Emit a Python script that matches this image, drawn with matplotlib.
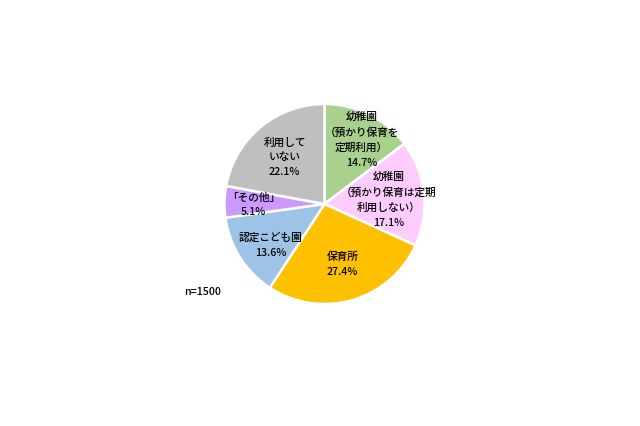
import matplotlib
matplotlib.use("Agg")
import matplotlib.pyplot as plt

plt.rcParams['font.family'] = ['Noto Sans CJK JP', 'DejaVu Sans']

# data
labels = ["幼稚園\n（預かり保育を\n定期利用）", "幼稚園\n（預かり保育は定期\n利用しない）",
          "保育所", "認定こども園", "「その他」", "利用して\nいない"]
shares = [14.7, 17.1, 27.4, 13.6, 5.1, 22.1]
colors = ["#A9D18E", "#FFCCFF", "#FFC000", "#9DC3E6", "#CC99FF", "#BFBFBF"]
n_total = 1500

# label spots inside the pie (unit radius)
label_pos = [(0.37, 0.64), (0.64, 0.04), (0.18, -0.60),
             (-0.54, -0.41), (-0.71, -0.01), (-0.40, 0.47)]

fig = plt.figure(figsize=(6.4, 4.26), dpi=100, facecolor='white')
cx, cy, r = 324.5, 204, 100
ax = fig.add_axes([(cx - r) / 640, 1 - (cy + r) / 426, 2 * r / 640, 2 * r / 426])

ax.pie(shares, colors=colors, startangle=90, counterclock=False,
       wedgeprops=dict(edgecolor='white', linewidth=1.8))
ax.set_xlim(-1, 1)
ax.set_ylim(-1, 1)

for lab, val, (x, y) in zip(labels, shares, label_pos):
    ax.text(x, y, f"{lab}\n{val:.1f}%", ha='center', va='center',
            fontsize=7.7, fontweight='medium', linespacing=1.58,
            color='black', clip_on=False)

fig.text(203 / 640, 1 - 292 / 426, f"n={n_total}", ha='center', va='center',
         fontsize=7.7, fontweight='medium')

fig.savefig("out.png", dpi=100, facecolor='white')
